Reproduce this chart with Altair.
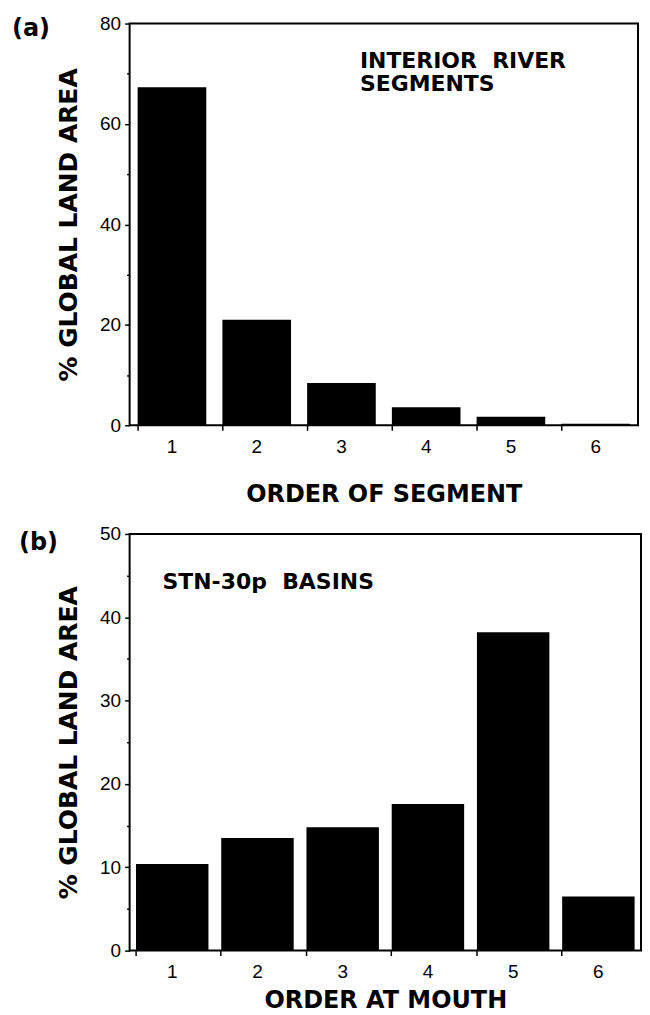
import altair as alt
import pandas as pd

# ---- data ----
orders = ["1", "2", "3", "4", "5", "6"]
segment_pct = [67.3, 21.0, 8.4, 3.6, 1.7, 0.3]      # panel (a) interior river segments
mouth_pct = [10.4, 13.5, 14.8, 17.6, 38.2, 6.5]      # panel (b) STN-30p basins
seg_yticks = [0, 10, 20, 30, 40, 50, 60, 70, 80]
mouth_yticks = [0, 5, 10, 15, 20, 25, 30, 35, 40, 45, 50]

BOLD = "DejaVu Sans"
TICKF = "Liberation Sans"


def panel(values, yticks, ymax, major, ytitle, xtitle, w, h, pad, xtitle_y,
          tag, tag_x, tag_y, note_lines, note_x, note_y):
    df = pd.DataFrame({"order": orders, "pct": values})
    bars = alt.Chart(df).mark_bar(color="black").encode(
        x=alt.X("order:O", sort=orders,
                scale=alt.Scale(paddingInner=pad, paddingOuter=pad / 2),
                axis=alt.Axis(title=xtitle, labelAngle=0, bandPosition=0, domain=False,
                              tickSize=5, tickWidth=1.5, tickColor="black",
                              labelFont=TICKF, labelFontSize=19, labelColor="black",
                              labelPadding=7,
                              titleFont=BOLD, titleFontSize=24, titleFontWeight="bold",
                              titleColor="black", titleBaseline="alphabetic",
                              titleY=xtitle_y)),
        y=alt.Y("pct:Q", scale=alt.Scale(domain=[0, ymax], nice=False),
                axis=alt.Axis(values=yticks, title=ytitle, domain=False, grid=False,
                              tickSize={"condition": {"test": f"datum.value % {major} == 0", "value": 5}, "value": 3},
                              tickWidth=1.5, tickColor="black",
                              labelExpr=f"datum.value % {major} == 0 ? datum.label : ''",
                              labelFont=TICKF, labelFontSize=19, labelColor="black",
                              labelPadding=4,
                              titleFont=BOLD, titleFontSize=25, titleFontWeight="bold",
                              titleColor="black", titleBaseline="alphabetic",
                              titleX=-53)),
    )
    tag_chart = alt.Chart(pd.DataFrame({"t": [tag]})).mark_text(
        font=BOLD, fontSize=24, fontWeight="bold", color="black",
        align="left", baseline="alphabetic"
    ).encode(text="t:N", x=alt.value(tag_x), y=alt.value(tag_y))
    layers = [bars, tag_chart]
    for i, line in enumerate(note_lines):
        layers.append(alt.Chart(pd.DataFrame({"t": [line]})).mark_text(
            font=BOLD, fontSize=22, fontWeight="bold", color="black",
            align="left", baseline="alphabetic"
        ).encode(text="t:N", x=alt.value(note_x), y=alt.value(note_y + 23 * i)))
    return alt.layer(*layers).properties(width=w, height=h)


a = panel(segment_pct, seg_yticks, 80, 20, "% GLOBAL LAND AREA", "ORDER OF SEGMENT",
          510, 403, 0.19, 76, "(a)", -118, 13,
          ["INTERIOR\u00a0\u00a0RIVER", "SEGMENTS"], 231, 45)
b = panel(mouth_pct, mouth_yticks, 50, 10, "% GLOBAL LAND AREA", "ORDER AT MOUTH",
          513, 418, 0.15, 57, "(b)", -111, 16,
          ["STN-30p\u00a0\u00a0BASINS"], 33, 55)

chart = alt.vconcat(a, b, spacing=17).properties(
    padding={"left": 3, "top": 4, "right": 0, "bottom": 0}
).configure_view(stroke="black", strokeWidth=2)

chart.save("out.html", embed_options={"renderer": "svg", "actions": False})
